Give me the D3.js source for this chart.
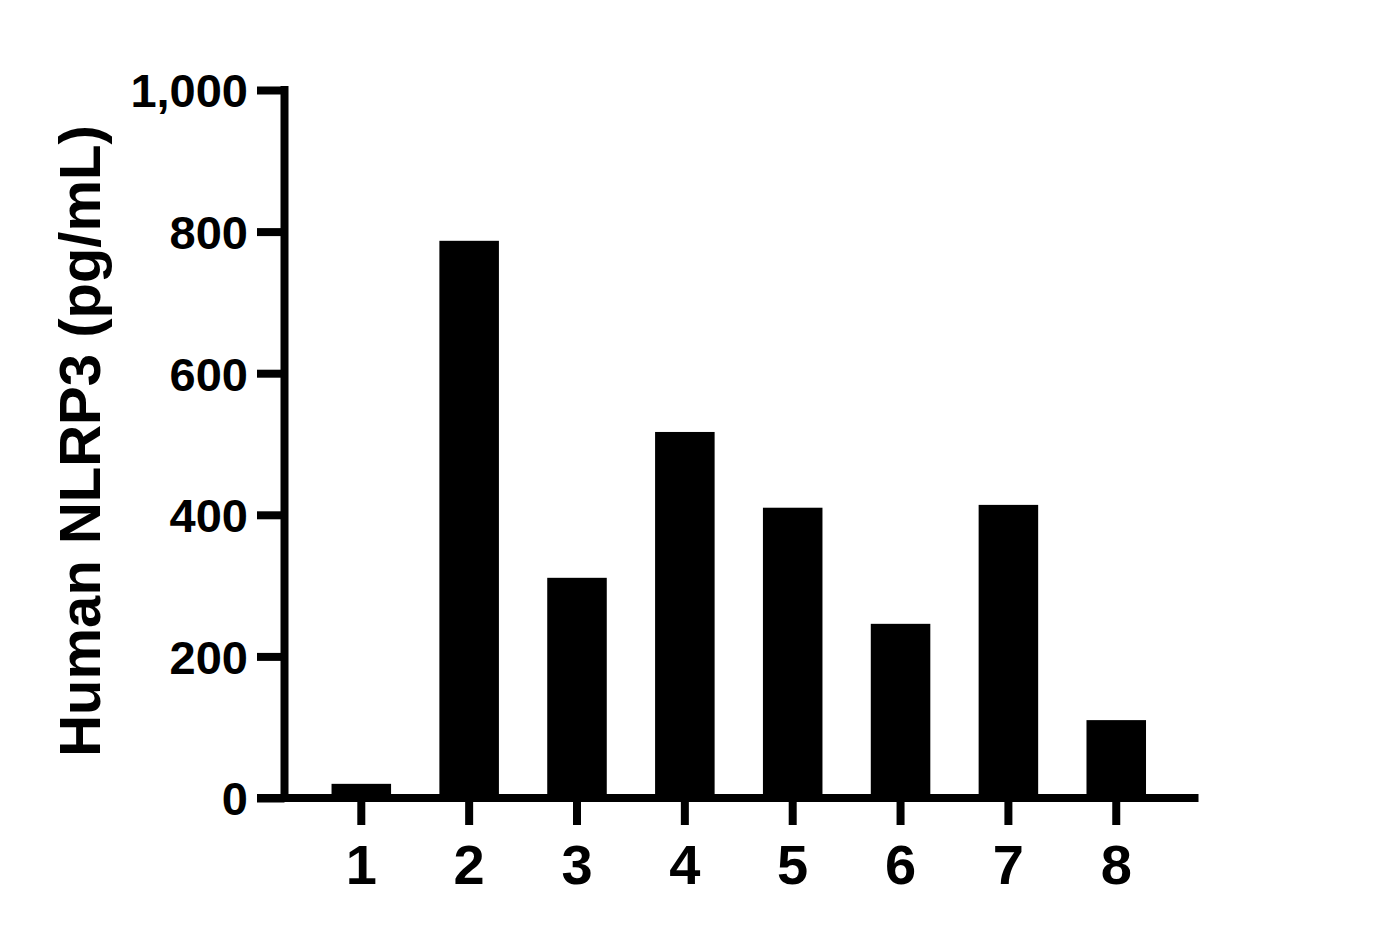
<!DOCTYPE html>
<html>
<head>
<meta charset="utf-8">
<script src="https://cdn.jsdelivr.net/npm/d3@7"></script>
<style>
  html, body { margin: 0; padding: 0; background: #fff; }
  svg { display: block; }
  text { font-family: "Liberation Sans", Arial, Helvetica, sans-serif; font-weight: bold; fill: #000; }
</style>
</head>
<body>
<svg id="chart" width="1375" height="938"></svg>
<script>
const categories = ["1", "2", "3", "4", "5", "6", "7", "8"];
const values = [20, 787, 311, 517, 410, 246, 414, 110];
const yTicks = [0, 200, 400, 600, 800, 1000];
const yTitle = "Human NLRP3 (pg/mL)";

const svg = d3.select("#chart");
const W = 1375, H = 938;
const axisX = 284.5;   // y-axis line centre
const axisY = 798;     // x-axis line centre
const lw = 8;

const y = d3.scaleLinear().domain([0, 1000]).range([axisY, 90]);
const step = 107.85;
const x0 = 361.3 - step / 2;
const x = d3.scaleBand().domain(categories).range([x0, x0 + step * categories.length])
  .paddingInner(0.448).paddingOuter(0.224);

// bars
svg.append("g").selectAll("rect").data(values).join("rect")
  .attr("x", (d, i) => x(categories[i]))
  .attr("width", x.bandwidth())
  .attr("y", d => y(d))
  .attr("height", d => y(0) - y(d))
  .attr("fill", "#000");

// y axis
const gy = svg.append("g").attr("transform", `translate(${axisX},0)`)
  .call(d3.axisLeft(y).tickValues(yTicks).tickFormat(d3.format(",")).tickSize(27.5).tickSizeOuter(0).tickPadding(9));
gy.select(".domain").remove();
gy.selectAll(".tick line").attr("stroke", "#000").attr("stroke-width", lw);
gy.selectAll(".tick text").attr("font-size", 47).attr("dy", "0.36em")
  .style("font-family", "'Liberation Sans', Arial, sans-serif").style("font-weight", "bold");
gy.append("line").attr("x1", 0).attr("x2", 0).attr("y1", y(1000) - lw / 2).attr("y2", axisY + lw / 2)
  .attr("stroke", "#000").attr("stroke-width", lw);

// x axis
const gx = svg.append("g").attr("transform", `translate(0,${axisY})`)
  .call(d3.axisBottom(x).tickSize(27).tickSizeOuter(0));
gx.select(".domain").remove();
gx.selectAll(".tick line").attr("stroke", "#000").attr("stroke-width", lw);
gx.selectAll(".tick text").attr("font-size", 56).attr("y", 86).attr("dy", 0)
  .style("font-family", "'Liberation Sans', Arial, sans-serif").style("font-weight", "bold");
gx.append("line").attr("x1", 257).attr("x2", 1198.5).attr("y1", 0).attr("y2", 0)
  .attr("stroke", "#000").attr("stroke-width", lw);

// y title
svg.append("text")
  .attr("transform", `translate(100,${441}) rotate(-90)`)
  .attr("text-anchor", "middle")
  .attr("font-size", 58)
  .text(yTitle);
</script>
</body>
</html>
